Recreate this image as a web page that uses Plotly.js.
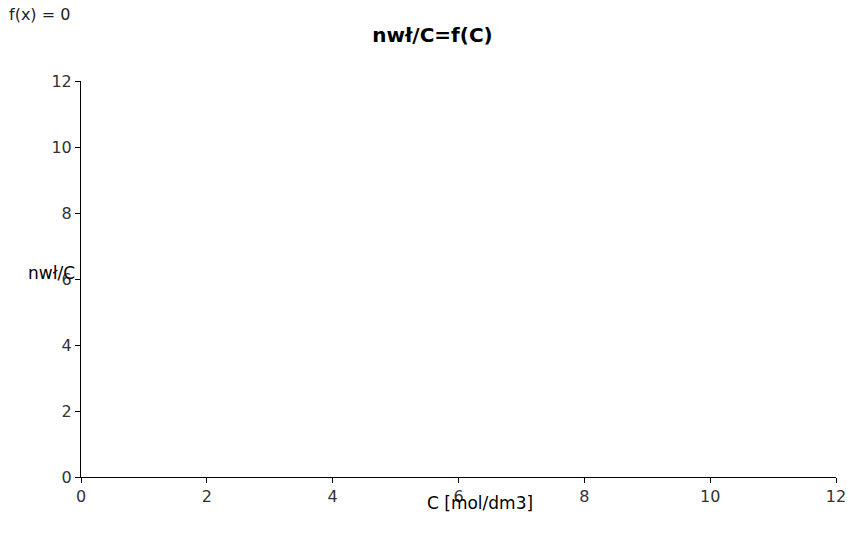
<!DOCTYPE html>
<html>
<head>
<meta charset="utf-8">
<script src="https://cdn.plot.ly/plotly-3.0.1.min.js"></script>
<style>html,body{margin:0;padding:0;background:#fff;}#chart{width:865px;height:545px;}</style>
</head>
<body>
<div id="chart"></div>
<script>
// Data (the reference chart shows no plotted points)
const cValues = [];
const nwlCValues = [];
const xTickValues = [0, 2, 4, 6, 8, 10, 12];
const yTickValues = [0, 2, 4, 6, 8, 10, 12];
const chartTitle = "nwł/C=f(C)";
const xTitle = "C [mol/dm3]";
const yTitle = "nwł/C";
const fitLabel = "f(x) = 0";

const font = "DejaVu Sans, sans-serif";

const traces = [{
  type: "scatter",
  mode: "markers",
  x: cValues,
  y: nwlCValues,
  marker: {color: "#004586", size: 6},
  showlegend: false
}];

const layout = {
  width: 865,
  height: 545,
  margin: {l: 81, r: 29, t: 81, b: 68},
  paper_bgcolor: "#ffffff",
  plot_bgcolor: "#ffffff",
  font: {family: font, size: 16, color: "#333"},
  showlegend: false,
  title: {
    text: "<b>" + chartTitle + "</b>",
    font: {family: font, size: 20, color: "#000"},
    xref: "container", x: 0.5, xanchor: "center",
    yref: "container", y: 1 - 35/545, yanchor: "middle"
  },
  xaxis: {
    range: [0, 12],
    tickvals: xTickValues,
    ticktext: xTickValues.map(String),
    ticks: "outside", ticklen: 5, tickcolor: "#000",
    showline: true, linecolor: "#000", linewidth: 1,
    showgrid: false, zeroline: false,
    tickfont: {family: font, size: 16, color: "#333"},
    fixedrange: true
  },
  yaxis: {
    range: [0, 12],
    tickvals: yTickValues,
    ticktext: yTickValues.map(String),
    ticks: "outside", ticklen: 5, tickcolor: "#000",
    showline: true, linecolor: "#000", linewidth: 1,
    showgrid: false, zeroline: false,
    tickfont: {family: font, size: 16, color: "#333"},
    fixedrange: true
  },
  annotations: [
    {
      text: xTitle, xref: "paper", yref: "paper",
      x: (480 - 81)/755, xanchor: "center",
      y: -26/396, yanchor: "middle",
      showarrow: false,
      font: {family: font, size: 17, color: "#000"}
    },
    {
      text: yTitle, xref: "paper", yref: "paper",
      x: -4/755, xanchor: "right",
      y: 0.5 + 6/396, yanchor: "middle",
      showarrow: false,
      font: {family: font, size: 17, color: "#000"}
    },
    {
      text: fitLabel, xref: "paper", yref: "paper",
      x: -74/755, xanchor: "left",
      y: 1 + 66/396, yanchor: "middle",
      showarrow: false,
      font: {family: font, size: 16, color: "#222"}
    }
  ]
};

Plotly.newPlot("chart", traces, layout, {displayModeBar: false, staticPlot: true});
</script>
</body>
</html>
